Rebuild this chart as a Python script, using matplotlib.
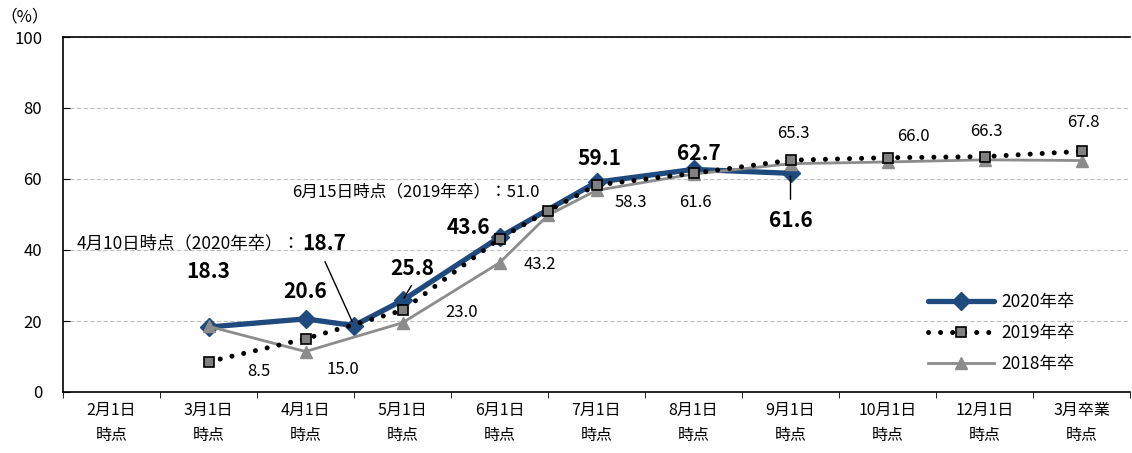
import matplotlib
matplotlib.use('Agg')
import matplotlib.pyplot as plt

plt.rcParams['font.family'] = ['Noto Sans CJK JP', 'DejaVu Sans']

categories = ['2月1日\n時点', '3月1日\n時点', '4月1日\n時点', '5月1日\n時点', '6月1日\n時点',
              '7月1日\n時点', '8月1日\n時点', '9月1日\n時点', '10月1日\n時点', '12月1日\n時点',
              '3月卒業\n時点']

# position on the category axis (x.5 = mid-month survey: 4/10 and 6/15)
x_2020 = [1, 2, 2.5, 3, 4, 5, 6, 7]
y_2020 = [18.3, 20.6, 18.7, 25.8, 43.6, 59.1, 62.7, 61.6]
x_2019 = [1, 2, 3, 4, 4.5, 5, 6, 7, 8, 9, 10]
y_2019 = [8.5, 15.0, 23.0, 43.2, 51.0, 58.3, 61.6, 65.3, 66.0, 66.3, 67.8]
x_2018 = [1, 2, 3, 4, 4.5, 5, 6, 7, 8, 9, 10]
y_2018 = [18.5, 11.4, 19.5, 36.4, 49.8, 56.8, 61.4, 64.3, 64.8, 65.4, 65.2]

navy = '#1F4A7E'
gray = '#8C8C8C'

fig = plt.figure(figsize=(11.32, 4.53), dpi=100)
ax = fig.add_axes([63/1132, 1 - 392/453, 1067/1132, 355/453])

ax.plot(x_2020, y_2020, color=navy, lw=3.8, marker='D', ms=9, mfc=navy, mec=navy,
        label='2020年卒', zorder=3, solid_capstyle='round')
ax.plot(x_2018, y_2018, color=gray, lw=2, marker='^', ms=8, mfc=gray, mec=gray,
        label='2018年卒', zorder=4)
ax.plot(x_2019, y_2019, color='black', lw=3.6, linestyle=(0, (0.01, 2.4)),
        dash_capstyle='round', marker='s', ms=7, mfc='#808080', mec='black', mew=1.2,
        label='2019年卒', zorder=5)

# bold labels for 2020 (offsets in pixels)
off_2020 = [(0, 56), (0, 27), None, (10, 32), (-31, 10), (3, 24), (5, 16), (0, -47)]
for x, y, off in zip(x_2020, y_2020, off_2020):
    if off is None:
        continue
    ax.annotate(f'{y:.1f}', (x, y), xytext=off, textcoords='offset pixels',
                ha='center', va='center', fontsize=15, fontweight='bold', zorder=6)

# 2019 labels
off_2019 = [(50, -10), (37, -31), (59, -2), (40, -26), None, (34, -17), (2, -29),
            (3, 27), (26, 21), (2, 25), (2, 29)]
for x, y, off in zip(x_2019, y_2019, off_2019):
    if off is None:
        continue
    ax.annotate(f'{y:.1f}', (x, y), xytext=off, textcoords='offset pixels',
                ha='center', va='center', fontsize=12, zorder=6)

# special notes
ax.annotate('4月10日時点（2020年卒）：', (x_2020[2], y_2020[2]), xytext=(-54, 82),
            textcoords='offset pixels', ha='right', va='center', fontsize=12.5)
ax.annotate(f'{y_2020[2]:.1f}', (x_2020[2], y_2020[2]), xytext=(-52, 82),
            textcoords='offset pixels', ha='left', va='center', fontsize=15,
            fontweight='bold')
ax.annotate(f'6月15日時点（2019年卒）：{y_2019[4]:.1f}', (x_2019[4], y_2019[4]),
            xytext=(-8, 19), textcoords='offset pixels', ha='right', va='center',
            fontsize=12)

# leader lines
line = dict(arrowstyle='-', color='black', lw=1, shrinkA=0)
ax.annotate('', (x_2020[2], y_2020[2]), xytext=(-29, 64), textcoords='offset pixels',
            arrowprops=dict(line, shrinkB=3), zorder=7)
ax.annotate('', (x_2020[3], y_2020[3]), xytext=(9, 15), textcoords='offset pixels',
            arrowprops=dict(line, shrinkB=2), zorder=7)
ax.annotate('', (x_2020[7], y_2020[7]), xytext=(0, -26), textcoords='offset pixels',
            arrowprops=dict(line, shrinkB=2), zorder=7)

ax.set_xlim(-0.5, len(categories) - 0.5)
ax.set_ylim(0, 100)
ax.set_yticks([0, 20, 40, 60, 80, 100])
ax.tick_params(axis='y', direction='in', length=5, pad=15, labelsize=12)
ax.set_xticks(range(len(categories)))
ax.set_xticklabels(categories, fontsize=11.5, linespacing=1.65)
ax.set_xticks([i + 0.5 for i in range(-1, len(categories))], minor=True)
ax.tick_params(axis='x', which='major', length=0, pad=7)
ax.tick_params(axis='x', which='minor', direction='out', length=4)

ax.yaxis.grid(True, color='#C0C0C0', linestyle=(0, (4, 2)), lw=0.8)
ax.set_axisbelow(True)
ax.spines['right'].set_visible(False)
for s in ['left', 'top', 'bottom']:
    ax.spines[s].set_linewidth(1.2)

handles, labels = ax.get_legend_handles_labels()
order = [0, 2, 1]
ax.legend([handles[i] for i in order], [labels[i] for i in order],
          loc='upper left', bbox_to_anchor=(928/1132, 1 - 293/453),
          bbox_transform=fig.transFigure, frameon=False, fontsize=12.5,
          handlelength=3.8, handletextpad=0.4, labelspacing=0.75, borderpad=0,
          borderaxespad=0)

fig.text(25/1132, 1 - 17/453, '（%）', ha='center', va='center', fontsize=12)

fig.savefig('out.png', dpi=100)
